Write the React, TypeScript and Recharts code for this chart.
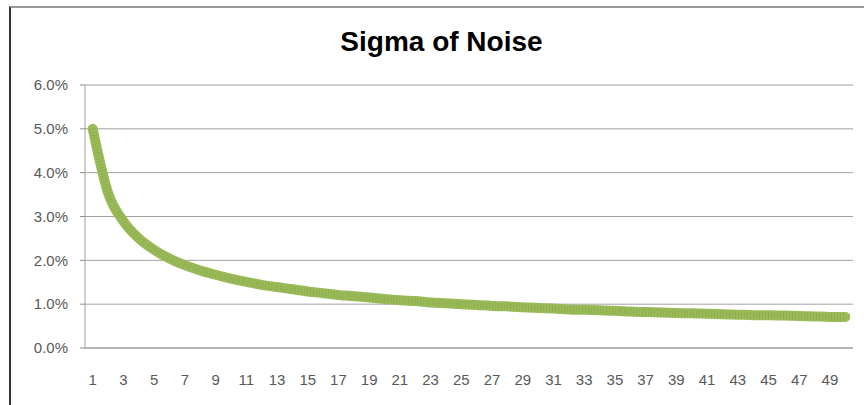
import { CartesianGrid, Line, LineChart, XAxis, YAxis } from "recharts";

// sample index 1..50
const samples = [
  1, 2, 3, 4, 5, 6, 7, 8, 9, 10, 11, 12, 13, 14, 15, 16, 17, 18, 19, 20, 21,
  22, 23, 24, 25, 26, 27, 28, 29, 30, 31, 32, 33, 34, 35, 36, 37, 38, 39, 40,
  41, 42, 43, 44, 45, 46, 47, 48, 49, 50,
];

// sigma in percent
const sigma = [
  5.0, 3.54, 2.89, 2.5, 2.24, 2.04, 1.89, 1.77, 1.67, 1.58, 1.51, 1.44, 1.39,
  1.34, 1.29, 1.25, 1.21, 1.18, 1.15, 1.12, 1.09, 1.07, 1.04, 1.02, 1.0, 0.98,
  0.96, 0.95, 0.93, 0.91, 0.9, 0.88, 0.87, 0.86, 0.85, 0.83, 0.82, 0.81, 0.8,
  0.79, 0.78, 0.77, 0.76, 0.75, 0.75, 0.74, 0.73, 0.72, 0.71, 0.71,
];

const yTicks = [0, 1, 2, 3, 4, 5, 6];
// category boundaries, where Excel puts the x tick marks
const xMarks = [
  0, 1, 2, 3, 4, 5, 6, 7, 8, 9, 10, 11, 12, 13, 14, 15, 16, 17, 18, 19, 20, 21,
  22, 23, 24, 25, 26, 27, 28, 29, 30, 31, 32, 33, 34, 35, 36, 37, 38, 39, 40,
  41, 42, 43, 44, 45, 46, 47, 48, 49, 50,
];

const data = samples.map((n, i) => ({ n, sigma: sigma[i] }));

const FONT = "'Liberation Sans', Arial, sans-serif";
const GRID = "#a0a0a0";

export default function App() {
  return (
    <div
      style={{
        position: "absolute",
        left: 0,
        top: 0,
        width: 864,
        height: 405,
        background: "#fff",
        fontFamily: FONT,
      }}
    >
      <div
        style={{
          position: "absolute",
          left: 9,
          top: 6,
          right: 0,
          bottom: 0,
          borderLeft: "2px solid #333",
          borderTop: "2px solid #999",
        }}
      />
      <div
        style={{
          position: "absolute",
          left: 0,
          width: 883,
          top: 28,
          textAlign: "center",
          fontSize: 28,
          lineHeight: "28px",
          fontWeight: "bold",
          color: "#000",
        }}
      >
        Sigma of Noise
      </div>
      <LineChart
        width={864}
        height={405}
        data={data}
        margin={{ top: 85, right: 11, bottom: 27, left: 0 }}
        style={{ position: "absolute", left: 0, top: 0 }}
      >
        <CartesianGrid vertical={false} stroke={GRID} xAxisId="cat" />
        {/* default axis id 0 sits nearest the plot: axis line + boundary tick marks */}
        <XAxis
          type="number"
          domain={[0, 50]}
          allowDataOverflow
          ticks={xMarks}
          interval={0}
          height={1}
          tick={false}
          axisLine={{ stroke: GRID }}
          tickLine={{ stroke: "#8c8c8c" }}
          tickSize={5}
        />
        <XAxis
          xAxisId="cat"
          dataKey="n"
          scale="band"
          interval={1}
          height={29}
          tickLine={false}
          axisLine={false}
          tickMargin={19}
          tick={{ fill: "#595959", fontSize: 15, fontFamily: FONT }}
        />
        <YAxis
          width={85}
          domain={[0, 6]}
          ticks={yTicks}
          tickFormatter={(v: number) => `${v.toFixed(1)}%`}
          axisLine={{ stroke: GRID }}
          tickLine={{ stroke: "#8c8c8c" }}
          tickSize={5}
          tickMargin={12}
          tick={{ fill: "#595959", fontSize: 15, fontFamily: FONT }}
        />
        <Line
          xAxisId="cat"
          type="monotone"
          dataKey="sigma"
          stroke="#9bbb59"
          strokeWidth={10}
          strokeLinecap="round"
          dot={false}
          isAnimationActive={false}
        />
        <Line
          xAxisId="cat"
          type="monotone"
          dataKey="sigma"
          stroke="#7f9c44"
          strokeWidth={7}
          strokeDasharray="1 2"
          strokeOpacity={0.45}
          dot={false}
          legendType="none"
          isAnimationActive={false}
        />
      </LineChart>
    </div>
  );
}
